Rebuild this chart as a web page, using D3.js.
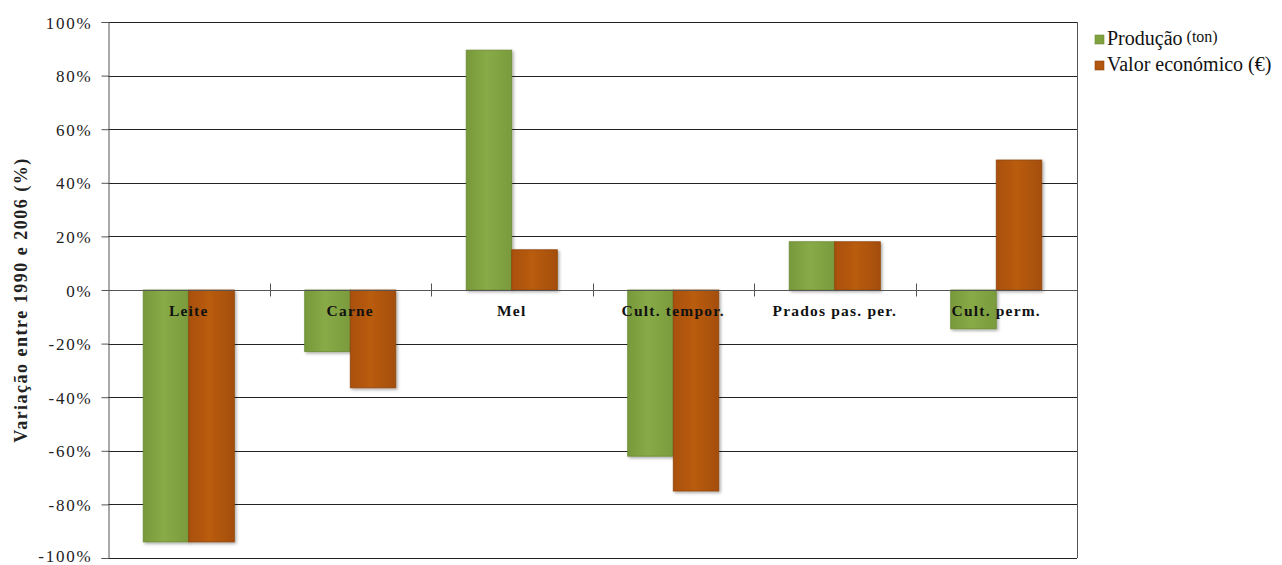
<!DOCTYPE html>
<html>
<head>
<meta charset="utf-8" />
<title>Variação entre 1990 e 2006</title>
<style>
  body { margin: 0; background: #fff; }
  #chart svg { display: block; }
</style>
</head>
<body>
<div id="chart"></div>
<script src="https://cdnjs.cloudflare.com/ajax/libs/d3/7.8.5/d3.min.js"></script>
<script>
var categories = ["Leite", "Carne", "Mel", "Cult. tempor.", "Prados pas. per.", "Cult. perm."];
var seriesNames = ["Produção", "Valor económico (€)"];
var producao = [-94, -23, 89.5, -62, 18, -14.5];
var valor = [-94, -36.5, 15, -75, 18, 48.5];
var yTicks = [100, 80, 60, 40, 20, 0, -20, -40, -60, -80, -100];

(function () {
  var serif = "'Liberation Serif', 'Times New Roman', serif";
  var width = 1282, height = 565;
  var margin = { top: 22, left: 108, right: 205, bottom: 7 };
  var chartWidth = width - margin.left - margin.right;
  var chartHeight = height - margin.top - margin.bottom;

  var svg = d3.select("#chart").append("svg")
    .attr("width", width)
    .attr("height", height)
    .attr("font-family", serif);

  var defs = svg.append("defs");
  function grad(id, stops) {
    var g = defs.append("linearGradient").attr("id", id)
      .attr("x1", "0%").attr("x2", "100%").attr("y1", "0%").attr("y2", "0%");
    stops.forEach(function (s) {
      g.append("stop").attr("offset", s[0]).attr("stop-color", s[1]);
    });
  }
  grad("gGreen", [["0%", "#78993a"], ["45%", "#88aa47"], ["100%", "#7a9b3c"]]);
  grad("gOrange", [["0%", "#a9500a"], ["45%", "#b95c0f"], ["100%", "#a44e0b"]]);
  var shadow = defs.append("filter").attr("id", "shadow")
    .attr("x", "-10%").attr("y", "-5%").attr("width", "130%").attr("height", "115%");
  shadow.append("feDropShadow").attr("dx", 1.5).attr("dy", 1.5)
    .attr("stdDeviation", 1.5).attr("flood-color", "#000").attr("flood-opacity", 0.35);

  var g = svg.append("g").attr("transform", "translate(" + margin.left + "," + margin.top + ")");

  var y = d3.scaleLinear().domain([-100, 100]).range([chartHeight, 0]);
  var x0 = d3.scaleBand().domain(categories).range([0, chartWidth]).padding(0);
  var groupPad = x0.bandwidth() * 0.218;
  var x1 = d3.scaleBand().domain(seriesNames)
    .range([groupPad, x0.bandwidth() - groupPad]).padding(0);

  // gridlines
  g.append("g").selectAll("line").data(yTicks).enter().append("line")
    .attr("x1", 0).attr("x2", chartWidth)
    .attr("y1", function (d) { return Math.round(y(d)) + 0.5; })
    .attr("y2", function (d) { return Math.round(y(d)) + 0.5; })
    .attr("stroke", "#222").attr("stroke-width", 1);

  // plot border right
  g.append("line").attr("x1", chartWidth + 0.5).attr("x2", chartWidth + 0.5)
    .attr("y1", 0).attr("y2", chartHeight).attr("stroke", "#555");

  // y axis
  var yAxis = g.append("g").attr("transform", "translate(0.5,0)")
    .call(d3.axisLeft(y).tickValues(yTicks).tickSize(7).tickPadding(9)
      .tickFormat(function (d) { return d + "%"; }));
  yAxis.attr("font-family", serif).attr("font-size", 17);
  yAxis.select(".domain").attr("stroke", "#555");
  yAxis.selectAll(".tick line").attr("stroke", "#555");
  yAxis.selectAll("text").attr("fill", "#222").attr("letter-spacing", 1.8)
    .attr("dy", function (d) { return d === -100 ? "0.2em" : "0.36em"; });

  // bars
  var data = categories.map(function (c, i) {
    return { cat: c, vals: [producao[i], valor[i]] };
  });
  var grp = g.append("g").selectAll("g").data(data).enter().append("g")
    .attr("transform", function (d) { return "translate(" + x0(d.cat) + ",0)"; });
  grp.selectAll("rect").data(function (d) {
    return d.vals.map(function (v, j) { return { s: seriesNames[j], v: v, j: j }; });
  }).enter().append("rect")
    .attr("x", function (d) { return x1(d.s); })
    .attr("width", x1.bandwidth())
    .attr("y", function (d) { return y(Math.max(0, d.v)); })
    .attr("height", function (d) { return Math.abs(y(d.v) - y(0)); })
    .attr("fill", function (d) { return d.j === 0 ? "url(#gGreen)" : "url(#gOrange)"; })
    .attr("stroke", function (d) { return d.j === 0 ? "#6c8a33" : "#8f440a"; })
    .attr("stroke-width", 0.8)
    .attr("filter", "url(#shadow)");

  // x axis at zero with crossing ticks
  var y0 = Math.round(y(0)) + 0.5;
  g.append("line").attr("x1", 0).attr("x2", chartWidth).attr("y1", y0).attr("y2", y0)
    .attr("stroke", "#555");
  g.append("g").selectAll("line").data(categories.slice(1)).enter().append("line")
    .attr("x1", function (d) { return Math.round(x0(d)) + 0.5; })
    .attr("x2", function (d) { return Math.round(x0(d)) + 0.5; })
    .attr("y1", y0 - 7).attr("y2", y0 + 6)
    .attr("stroke", "#555");

  // category labels
  g.append("g").selectAll("text").data(categories).enter().append("text")
    .attr("x", function (d) { return x0(d) + x0.bandwidth() / 2; })
    .attr("y", y0 + 25)
    .attr("text-anchor", "middle")
    .attr("font-size", 15.5).attr("font-weight", "bold").attr("fill", "#111")
    .attr("letter-spacing", 1.2)
    .text(function (d) { return d; });

  // y axis title
  svg.append("text")
    .attr("transform", "translate(27,300) rotate(-90)")
    .attr("text-anchor", "middle")
    .attr("font-size", 18).attr("font-weight", "bold").attr("fill", "#222")
    .attr("letter-spacing", 1.5)
    .text("Variação entre 1990 e 2006 (%)");

  // legend
  var leg = svg.append("g").attr("transform", "translate(1095,45)");
  var colors = ["#7fa23e", "#b0560e"];
  seriesNames.forEach(function (s, i) {
    var row = leg.append("g").attr("transform", "translate(0," + (i * 26) + ")");
    row.append("rect").attr("x", 0).attr("y", -10).attr("width", 9).attr("height", 9)
      .attr("fill", colors[i]).attr("stroke", i === 0 ? "#6c8a33" : "#8f440a").attr("stroke-width", 0.6);
    var t = row.append("text").attr("x", 12).attr("y", 0).attr("font-size", 20).attr("fill", "#111");
    t.append("tspan").text(s);
    if (i === 0) {
      t.append("tspan").attr("dx", 4).attr("dy", -3).attr("font-size", 16).text("(ton)");
    }
  });
}());
</script>
</body>
</html>
